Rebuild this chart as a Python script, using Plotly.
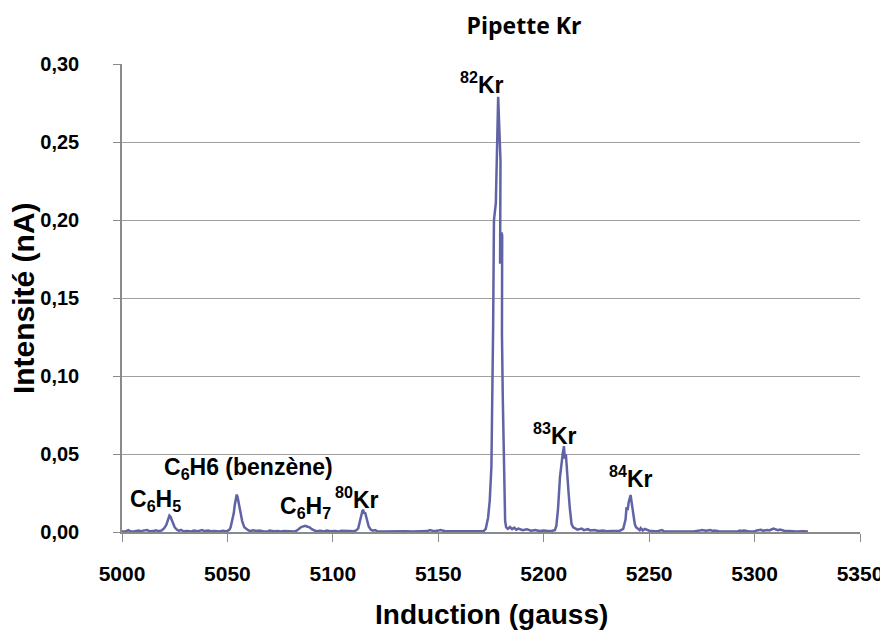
import plotly.graph_objects as go

# scan of the krypton pipette: magnetic induction (gauss) vs ion current (nA)
induction = [
    # baseline
    5000, 5002, 5003, 5004, 5006, 5008, 5009, 5010, 5012, 5013, 5015, 5016, 5017, 5018,
    # C6H5
    5019, 5020, 5021, 5021.5, 5022, 5022.5, 5023, 5023.5, 5024, 5025, 5026, 5027, 5028, 5029,
    5031, 5033, 5034, 5036, 5038, 5039, 5041, 5042, 5044, 5046, 5048, 5049, 5050,
    # C6H6
    5051, 5051.5, 5052, 5052.5, 5053, 5053.5, 5054, 5054.4, 5054.8, 5055.3, 5055.8, 5056.3,
    5057, 5058, 5059, 5060,
    5061, 5062, 5064, 5065, 5067, 5069, 5070, 5072, 5074, 5075, 5077, 5079,
    # C6H7
    5081, 5082, 5083, 5084, 5085, 5086, 5087, 5088, 5089, 5090, 5091,
    5092, 5094, 5096, 5097, 5099, 5101, 5103, 5104, 5106, 5108,
    # 80Kr
    5110, 5111, 5112, 5112.5, 5113, 5113.5, 5114, 5114.4, 5114.8, 5115.3, 5115.8, 5116.4,
    5117, 5118, 5119,
    5120, 5121, 5123, 5126, 5130, 5134, 5138, 5141, 5143, 5145, 5146, 5148, 5150, 5151,
    5153, 5156, 5160, 5164, 5168,
    # 82Kr
    5170, 5171.5, 5172.5, 5173.6, 5174.4, 5175.2, 5175.6, 5176.0, 5176.4, 5177.3, 5178.4,
    5179.5, 5179.3, 5180.0, 5180.3, 5180.2, 5180.6, 5181.1, 5181.4, 5181.7,
    5182.2, 5183, 5184, 5185, 5186, 5187, 5188, 5190, 5192, 5194, 5196, 5198, 5200, 5202, 5204,
    # 83Kr
    5205.3, 5206, 5206.8, 5207.7, 5208.5, 5209, 5209.6, 5210, 5210.5, 5211.1, 5211.8,
    5212.4, 5213.2, 5214,
    5215, 5216, 5218, 5219, 5221, 5222, 5224, 5226, 5228, 5230, 5232, 5234, 5236,
    # 84Kr
    5237.7, 5238.3, 5238.8, 5239.3, 5239.8, 5240.3, 5240.8, 5241.2, 5241.7, 5242.1, 5242.6,
    5243.2, 5243.8, 5244.5,
    5245.5, 5246, 5247, 5248, 5250, 5252, 5254, 5256, 5257, 5259, 5262, 5265, 5268, 5271,
    5274, 5275, 5277, 5279, 5280, 5281, 5283, 5286, 5289, 5292, 5293, 5294, 5295, 5297,
    5300, 5301, 5303, 5304, 5306, 5307, 5308, 5309, 5311, 5312, 5314, 5317, 5320, 5323, 5325.3,
]

intensite = [
    0.0004, 0.0005, 0.0012, 0.0004, 0.0005, 0.0010, 0.0004, 0.0009, 0.0013, 0.0005, 0.0006,
    0.0011, 0.0007, 0.0006,
    0.0012, 0.0025, 0.0045, 0.0065, 0.0085, 0.0105, 0.0098, 0.0080, 0.0062, 0.0030, 0.0016,
    0.0008, 0.0014, 0.0005,
    0.0006, 0.0004, 0.0010, 0.0005, 0.0012, 0.0006, 0.0009, 0.0005, 0.0007, 0.0004, 0.0008,
    0.0005, 0.0007,
    0.0015, 0.0030, 0.0060, 0.0090, 0.0120, 0.0175, 0.0215, 0.0240, 0.0225, 0.0190, 0.0170,
    0.0120, 0.0070, 0.0030, 0.0018, 0.0010,
    0.0005, 0.0011, 0.0006, 0.0010, 0.0005, 0.0004, 0.0009, 0.0005, 0.0007, 0.0004, 0.0006,
    0.0005,
    0.0006, 0.0004, 0.0010, 0.0022, 0.0032, 0.0036, 0.0040, 0.0034, 0.0030, 0.0018, 0.0010,
    0.0005, 0.0008, 0.0004, 0.0009, 0.0005, 0.0006, 0.0004, 0.0008, 0.0005, 0.0006,
    0.0005, 0.0010, 0.0022, 0.0055, 0.0090, 0.0120, 0.0135, 0.0142, 0.0118, 0.0125, 0.0100,
    0.0070, 0.0035, 0.0015, 0.0009,
    0.0012, 0.0005, 0.0004, 0.0005, 0.0004, 0.0005, 0.0004, 0.0005, 0.0008, 0.0006, 0.0012,
    0.0005, 0.0009, 0.0013, 0.0006, 0.0005, 0.0004, 0.0005, 0.0004,
    0.0005, 0.0006, 0.0020, 0.0090, 0.0200, 0.0420, 0.0750, 0.1300, 0.2000, 0.2110, 0.2790,
    0.2380, 0.1720, 0.1920, 0.1900, 0.1270, 0.0850, 0.0570, 0.0250, 0.0070,
    0.0030, 0.0020, 0.0032, 0.0018, 0.0028, 0.0015, 0.0022, 0.0012, 0.0018, 0.0008, 0.0012,
    0.0006, 0.0010, 0.0006, 0.0008,
    0.0012, 0.0040, 0.0150, 0.0350, 0.0460, 0.0500, 0.0550, 0.0470, 0.0500, 0.0350, 0.0250,
    0.0150, 0.0050, 0.0030,
    0.0025, 0.0015, 0.0022, 0.0012, 0.0018, 0.0010, 0.0013, 0.0006, 0.0009, 0.0005, 0.0006,
    0.0005, 0.0007,
    0.0020, 0.0045, 0.0080, 0.0160, 0.0140, 0.0190, 0.0210, 0.0237, 0.0190, 0.0150, 0.0110,
    0.0050, 0.0030, 0.0020,
    0.0012, 0.0025, 0.0010, 0.0020, 0.0008, 0.0006, 0.0005, 0.0012, 0.0005, 0.0004, 0.0004,
    0.0005, 0.0004, 0.0004, 0.0009, 0.0012, 0.0008, 0.0013, 0.0007, 0.0010, 0.0005, 0.0004,
    0.0005, 0.0004, 0.0009, 0.0006, 0.0010, 0.0005, 0.0004, 0.0010, 0.0014, 0.0008, 0.0012,
    0.0010, 0.0016, 0.0022, 0.0012, 0.0015, 0.0008, 0.0005, 0.0004, 0.0005, 0.0004,
]

# peak labels and where they sit (data coordinates)
peak_labels = [
    "C<sub>6</sub>H<sub>5</sub>",
    "C<sub>6</sub>H6 (benzène)",
    "C<sub>6</sub>H<sub>7</sub>",
    "<sup>80</sup>Kr",
    "<sup>82</sup>Kr",
    "<sup>83</sup>Kr",
    "<sup>84</sup>Kr",
]
label_x = [5016, 5060, 5087, 5111.5, 5170.5, 5205.5, 5241.5]
label_y = [0.020, 0.041, 0.016, 0.022, 0.288, 0.063, 0.035]

assert len(induction) == len(intensite)

LINE = "#6063a5"
GRID = "#a0a0a0"
AXIS = "#8a8a8a"
ARIAL = "Liberation Sans"

fig = go.Figure()
fig.add_trace(go.Scatter(
    x=induction, y=intensite, mode="lines",
    line=dict(color=LINE, width=2.5), hoverinfo="x+y", showlegend=False,
))

for txt, lx, ly in zip(peak_labels, label_x, label_y):
    fig.add_annotation(
        x=lx, y=ly, text=txt, showarrow=False,
        xanchor="center", yanchor="middle",
        font=dict(family=ARIAL, size=23, color="black", weight="bold"),
    )

# axis titles placed by hand, like the original
fig.add_annotation(
    xref="paper", yref="paper", x=-0.134, y=0.5, text="Intensité (nA)",
    textangle=-90, showarrow=False, xanchor="center", yanchor="middle",
    font=dict(family=ARIAL, size=30, color="black", weight="bold"),
)
fig.add_annotation(
    xref="paper", yref="paper", x=0.5, y=-0.176, text="Induction (gauss)",
    showarrow=False, xanchor="center", yanchor="middle",
    font=dict(family=ARIAL, size=28, color="black", weight="bold"),
)

# the page body adds an 8px margin, so the figure is 8px smaller each way
fig.update_layout(
    width=880, height=624,
    margin=dict(l=114, r=28, t=56, b=100),
    paper_bgcolor="white", plot_bgcolor="white",
    separators=", ",
    title=dict(
        text="Pipette Kr", x=516 / 880, xanchor="center",
        y=1 - 18 / 624, yanchor="middle",
        font=dict(family="Open Sans", size=23, color="black", weight="bold"),
    ),
)

fig.update_xaxes(
    range=[5000, 5350], tick0=5000, dtick=50, tickformat="d",
    automargin=False,
    showgrid=False, zeroline=False,
    showline=True, linecolor=AXIS, linewidth=1.5,
    ticks="outside", ticklen=8, tickcolor=AXIS, tickwidth=1,
    ticklabelstandoff=14, ticklabeloverflow="allow",
    tickfont=dict(family=ARIAL, size=21, color="black", weight="bold"),
)
fig.update_yaxes(
    range=[0, 0.30], tick0=0, dtick=0.05, tickformat=".2f",
    automargin=False,
    showgrid=True, gridcolor=GRID, gridwidth=1, zeroline=False,
    showline=True, linecolor=AXIS, linewidth=1.5,
    ticks="outside", ticklen=7, tickcolor=AXIS, tickwidth=1,
    ticklabelstandoff=30,
    tickfont=dict(family=ARIAL, size=20, color="black", weight="bold"),
)

fig.write_html("out.html")
